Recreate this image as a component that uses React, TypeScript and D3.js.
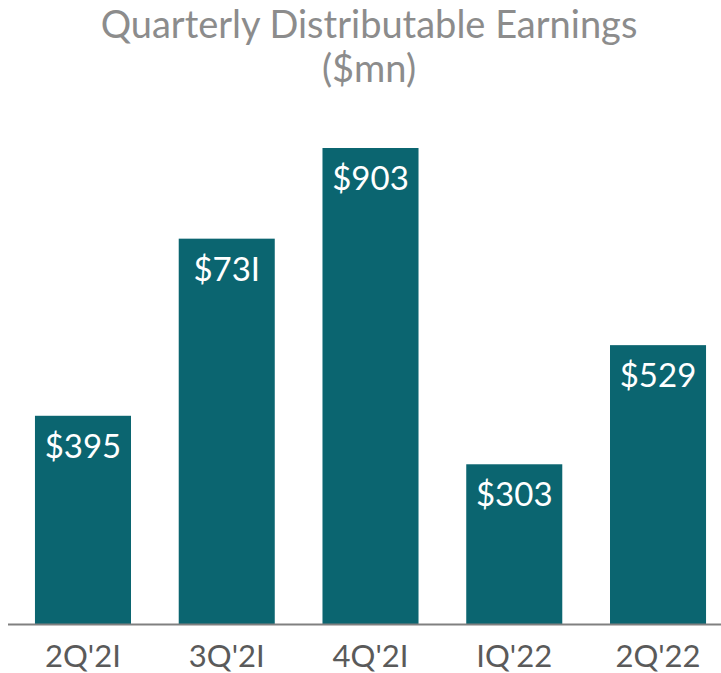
import React from "react";
import * as d3 from "d3";

const categories = ["2Q'2I", "3Q'2I", "4Q'2I", "IQ'22", "2Q'22"];
const values = [395, 731, 903, 303, 529];
const valueLabels = ["$395", "$73I", "$903", "$303", "$529"];

export default function App() {
  const W = 721, H = 673;
  const x = d3.scaleBand<string>().domain(categories).range([11.1, 729.9]).paddingInner(0.332).paddingOuter(0.166);
  const y = d3.scaleLinear().domain([0, 903]).range([624, 148]);
  const font = "Lato, 'Open Sans', sans-serif";
  return (
    <svg width={W} height={H} style={{ position: "absolute", left: 0, top: 0 }}>
      <rect width={W} height={H} fill="#fff" />
      <text x={369} y={38} textAnchor="middle" fill="#8c8c8c" fontFamily={font} fontSize={38}>Quarterly Distributable Earnings</text>
      <text x={369} y={82} textAnchor="middle" fill="#8c8c8c" fontFamily={font} fontSize={38}>($mn)</text>
      {values.map((v, i) => (
        <rect key={i} x={x(categories[i])} y={y(v)} width={x.bandwidth()} height={y(0) - y(v)} fill="#0b6570" />
      ))}
      {values.map((v, i) => (
        <text key={"l" + i} x={(x(categories[i]) as number) + x.bandwidth() / 2} y={y(v) + 42} textAnchor="middle" fill="#fff" fontFamily={font} fontSize={33}>{valueLabels[i]}</text>
      ))}
      <line x1={8} x2={721} y1={624.5} y2={624.5} stroke="#808080" strokeWidth={2} />
      {categories.map((c, i) => (
        <text key={"c" + i} x={(x(c) as number) + x.bandwidth() / 2} y={667} textAnchor="middle" fill="#5a5a5a" fontFamily={font} fontSize={31}>{c}</text>
      ))}
    </svg>
  );
}
